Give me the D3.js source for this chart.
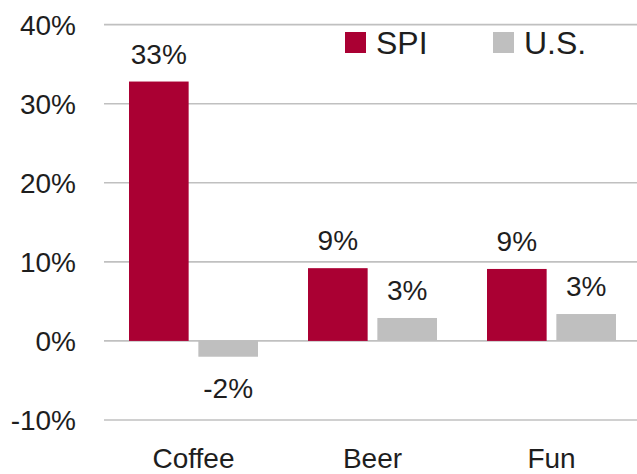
<!DOCTYPE html>
<meta charset="utf-8">
<script src="https://d3js.org/d3.v7.min.js"></script>
<style>
  body { margin: 0; background: #fff; }
  text { font-family: "Liberation Sans", Arial, sans-serif; fill: #1e1e1e; }
</style>
<body>
<svg width="637" height="474"></svg>
<script>
var categories = ["Coffee", "Beer", "Fun"];
var series = ["SPI", "U.S."];
var spiValues = [32.8, 9.2, 9.1];
var usValues = [-2.0, 2.9, 3.4];
var yTicks = [-10, 0, 10, 20, 30, 40];
var colors = ["#aa0033", "#bfbfbf"];

var svg = d3.select("svg");

var x = d3.scaleBand().domain(categories).range([104, 641]);
var xSub = d3.scaleBand().domain(series).range([25, 154]).paddingInner(0.14);
var y = d3.scaleLinear().domain([-10, 40]).range([420, 24.6]);

// gridlines
svg.append("g").selectAll("line")
  .data(yTicks)
  .enter().append("line")
  .attr("x1", 104).attr("x2", 637)
  .attr("y1", function(d){ return y(d); })
  .attr("y2", function(d){ return y(d); })
  .attr("stroke", "#c0c0c0")
  .attr("stroke-width", 1.6);

// y tick labels
svg.append("g").selectAll("text")
  .data(yTicks)
  .enter().append("text")
  .attr("x", 76)
  .attr("y", function(d){ return y(d) + 10; })
  .attr("text-anchor", "end")
  .attr("font-size", 28)
  .text(function(d){ return d + "%"; });

var rows = [];
categories.forEach(function(c, i){
  rows.push({cat: c, s: series[0], v: spiValues[i], col: colors[0]});
  rows.push({cat: c, s: series[1], v: usValues[i], col: colors[1]});
});

svg.append("g").selectAll("rect")
  .data(rows)
  .enter().append("rect")
  .attr("x", function(d){ return x(d.cat) + xSub(d.s); })
  .attr("width", xSub.bandwidth())
  .attr("y", function(d){ return y(Math.max(0, d.v)); })
  .attr("height", function(d){ return Math.abs(y(d.v) - y(0)); })
  .attr("fill", function(d){ return d.col; });

// value labels
svg.append("g").selectAll("text")
  .data(rows)
  .enter().append("text")
  .attr("x", function(d){ return x(d.cat) + xSub(d.s) + xSub.bandwidth() / 2; })
  .attr("y", function(d){ return d.v >= 0 ? y(d.v) - 18 : y(d.v) + 41; })
  .attr("text-anchor", "middle")
  .attr("font-size", 28)
  .text(function(d){ return Math.round(d.v) + "%"; });

// category labels
svg.append("g").selectAll("text")
  .data(categories)
  .enter().append("text")
  .attr("x", function(d){ return x(d) + x.bandwidth() / 2; })
  .attr("y", 468)
  .attr("text-anchor", "middle")
  .attr("font-size", 28)
  .text(function(d){ return d; });

// legend
var legendX = [345, 493];
var legend = svg.append("g").selectAll("g")
  .data(series)
  .enter().append("g")
  .attr("transform", function(d, i){ return "translate(" + legendX[i] + ",32)"; });
legend.append("rect")
  .attr("width", 21).attr("height", 21)
  .attr("fill", function(d, i){ return colors[i]; });
legend.append("text")
  .attr("x", 31).attr("y", 22)
  .attr("font-size", 32)
  .text(function(d){ return d; });
</script>
